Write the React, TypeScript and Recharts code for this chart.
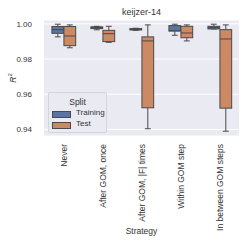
import React from "react";
import { Bar, CartesianGrid, ComposedChart, XAxis, YAxis } from "recharts";

// Strategy categories on the x axis
const strategies = [
  "Never",
  "After GOM, once",
  "After GOM, |F| times",
  "Within GOM step",
  "In between GOM steps",
];

// box stats per strategy: [whiskerLow, q1, median, q3, whiskerHigh]
const trainingStats = [
  [0.9926, 0.9946, 0.9967, 0.9985, 0.9998],
  [0.9966, 0.9973, 0.9979, 0.9983, 0.9986],
  [0.9963, 0.9965, 0.9969, 0.9973, 0.9975],
  [0.9935, 0.9959, 0.9961, 0.999, 0.9998],
  [0.9971, 0.9971, 0.9979, 0.9986, 0.9998],
];
const testStats = [
  [0.9864, 0.9876, 0.9931, 0.9985, 0.9994],
  [0.9895, 0.9899, 0.9944, 0.9963, 0.9986],
  [0.9404, 0.9523, 0.9903, 0.9926, 0.9994],
  [0.9903, 0.9921, 0.9948, 0.9986, 0.9994],
  [0.939, 0.9521, 0.9914, 0.9967, 0.9994],
];

const yTicks = [0.94, 0.96, 0.98, 1.0];

const TRAIN_COLOR = "#5975a4";
const TEST_COLOR = "#cc8963";
const EDGE = "#4a4a4a";
const FONT = "'Liberation Sans', Arial, sans-serif";

const data = strategies.map((name, i) => ({
  name,
  train: trainingStats[i],
  test: testStats[i],
}));

function makeBoxShape(key: "train" | "test", fill: string) {
  // eslint-disable-next-line @typescript-eslint/no-explicit-any
  return (props: any) => {
    const { x, y, width, height, payload } = props;
    const [lo, q1, med, q3, hi] = payload[key] as number[];
    const toPx = (v: number) => y + ((hi - v) / (hi - lo)) * height;
    const w = width * 0.98;
    const left = x + (width - w) / 2;
    const cx = x + width / 2;
    const capHalf = w / 4;
    return (
      <g>
        <line x1={cx} x2={cx} y1={toPx(hi)} y2={toPx(q3)} stroke={EDGE} strokeWidth={1} />
        <line x1={cx} x2={cx} y1={toPx(q1)} y2={toPx(lo)} stroke={EDGE} strokeWidth={1} />
        <line x1={cx - capHalf} x2={cx + capHalf} y1={toPx(hi)} y2={toPx(hi)} stroke={EDGE} strokeWidth={1} />
        <line x1={cx - capHalf} x2={cx + capHalf} y1={toPx(lo)} y2={toPx(lo)} stroke={EDGE} strokeWidth={1} />
        <rect
          x={left}
          y={toPx(q3)}
          width={w}
          height={Math.max(toPx(q1) - toPx(q3), 0.5)}
          fill={fill}
          stroke={EDGE}
          strokeWidth={1}
        />
        <line x1={left} x2={left + w} y1={toPx(med)} y2={toPx(med)} stroke={EDGE} strokeWidth={1} />
      </g>
    );
  };
}

// eslint-disable-next-line @typescript-eslint/no-explicit-any
function RotatedTick(props: any) {
  const { x, y, payload } = props;
  return (
    <text
      x={x}
      y={y + 6}
      transform={`rotate(-90, ${x}, ${y + 6})`}
      textAnchor="end"
      dominantBaseline="central"
      fontSize={8.5}
      fontFamily={FONT}
      fill="#333"
    >
      {payload.value}
    </text>
  );
}

export default function App() {
  return (
    <div style={{ position: "absolute", left: 0, top: 0, width: 249, height: 249, background: "#fff" }}>
      <ComposedChart
        width={249}
        height={249}
        data={data}
        margin={{ top: 20, right: 10, bottom: 7, left: 0 }}
        barCategoryGap="20%"
        barGap={0}
      >
        <CartesianGrid fill="#eaeaf2" stroke="#ffffff" strokeWidth={1} vertical={false} />
        <XAxis
          dataKey="name"
          interval={0}
          tickLine={false}
          axisLine={false}
          height={106}
          tick={<RotatedTick />}
          tickSize={0}
          label={{
            value: "Strategy",
            position: "insideBottom",
            offset: 8,
            fontSize: 8.5,
            fontFamily: FONT,
            fill: "#333",
          }}
        />
        <YAxis
          width={44}
          domain={[0.93628, 1.00218]}
          ticks={yTicks}
          tickFormatter={(v: number) => v.toFixed(2)}
          tickLine={false}
          axisLine={false}
          tickMargin={6}
          allowDataOverflow
          tick={{ fontSize: 8, fontFamily: FONT, fill: "#333" }}
          // eslint-disable-next-line @typescript-eslint/no-explicit-any
          label={(p: any) => {
            const vb = p.viewBox;
            const cx = 13;
            const cy = vb.y + vb.height / 2;
            return (
              <text
                x={cx}
                y={cy}
                transform={`rotate(-90, ${cx}, ${cy})`}
                textAnchor="middle"
                dominantBaseline="central"
                fontSize={8.5}
                fontFamily={FONT}
                fill="#333"
              >
                <tspan fontStyle="italic">R</tspan>
                <tspan fontSize={6} dy={-3}>2</tspan>
              </text>
            );
          }}
        />
        <Bar
          dataKey={(d: { train: number[] }) => [d.train[0], d.train[4]]}
          name="Training"
          fill={TRAIN_COLOR}
          shape={makeBoxShape("train", TRAIN_COLOR)}
          isAnimationActive={false}
        />
        <Bar
          dataKey={(d: { test: number[] }) => [d.test[0], d.test[4]]}
          name="Test"
          fill={TEST_COLOR}
          shape={makeBoxShape("test", TEST_COLOR)}
          isAnimationActive={false}
        />
      </ComposedChart>
      <div
        style={{
          position: "absolute",
          left: 0,
          width: 283,
          top: 7,
          textAlign: "center",
          fontFamily: FONT,
          fontSize: 9,
          color: "#333",
        }}
      >
        keijzer-14
      </div>
      <div
        style={{
          position: "absolute",
          left: 48,
          top: 92,
          width: 59,
          height: 41,
          boxSizing: "border-box",
          border: "1px solid #d4d4dc",
          borderRadius: 2,
          background: "#eaeaf2",
          fontFamily: FONT,
          fontSize: 8,
          color: "#333",
        }}
      >
        <div style={{ position: "absolute", top: 4, left: 0, width: "100%", textAlign: "center", fontSize: 8.5 }}>
          Split
        </div>
        {[
          { label: "Training", color: TRAIN_COLOR, top: 17 },
          { label: "Test", color: TEST_COLOR, top: 28 },
        ].map((item) => (
          <div key={item.label}>
            <div
              style={{
                position: "absolute",
                left: 3,
                top: item.top + 0.5,
                width: 17,
                height: 5,
                background: item.color,
                border: `0.5px solid ${EDGE}`,
              }}
            />
            <div style={{ position: "absolute", left: 27, top: item.top - 2, lineHeight: "10px" }}>{item.label}</div>
          </div>
        ))}
      </div>
    </div>
  );
}
